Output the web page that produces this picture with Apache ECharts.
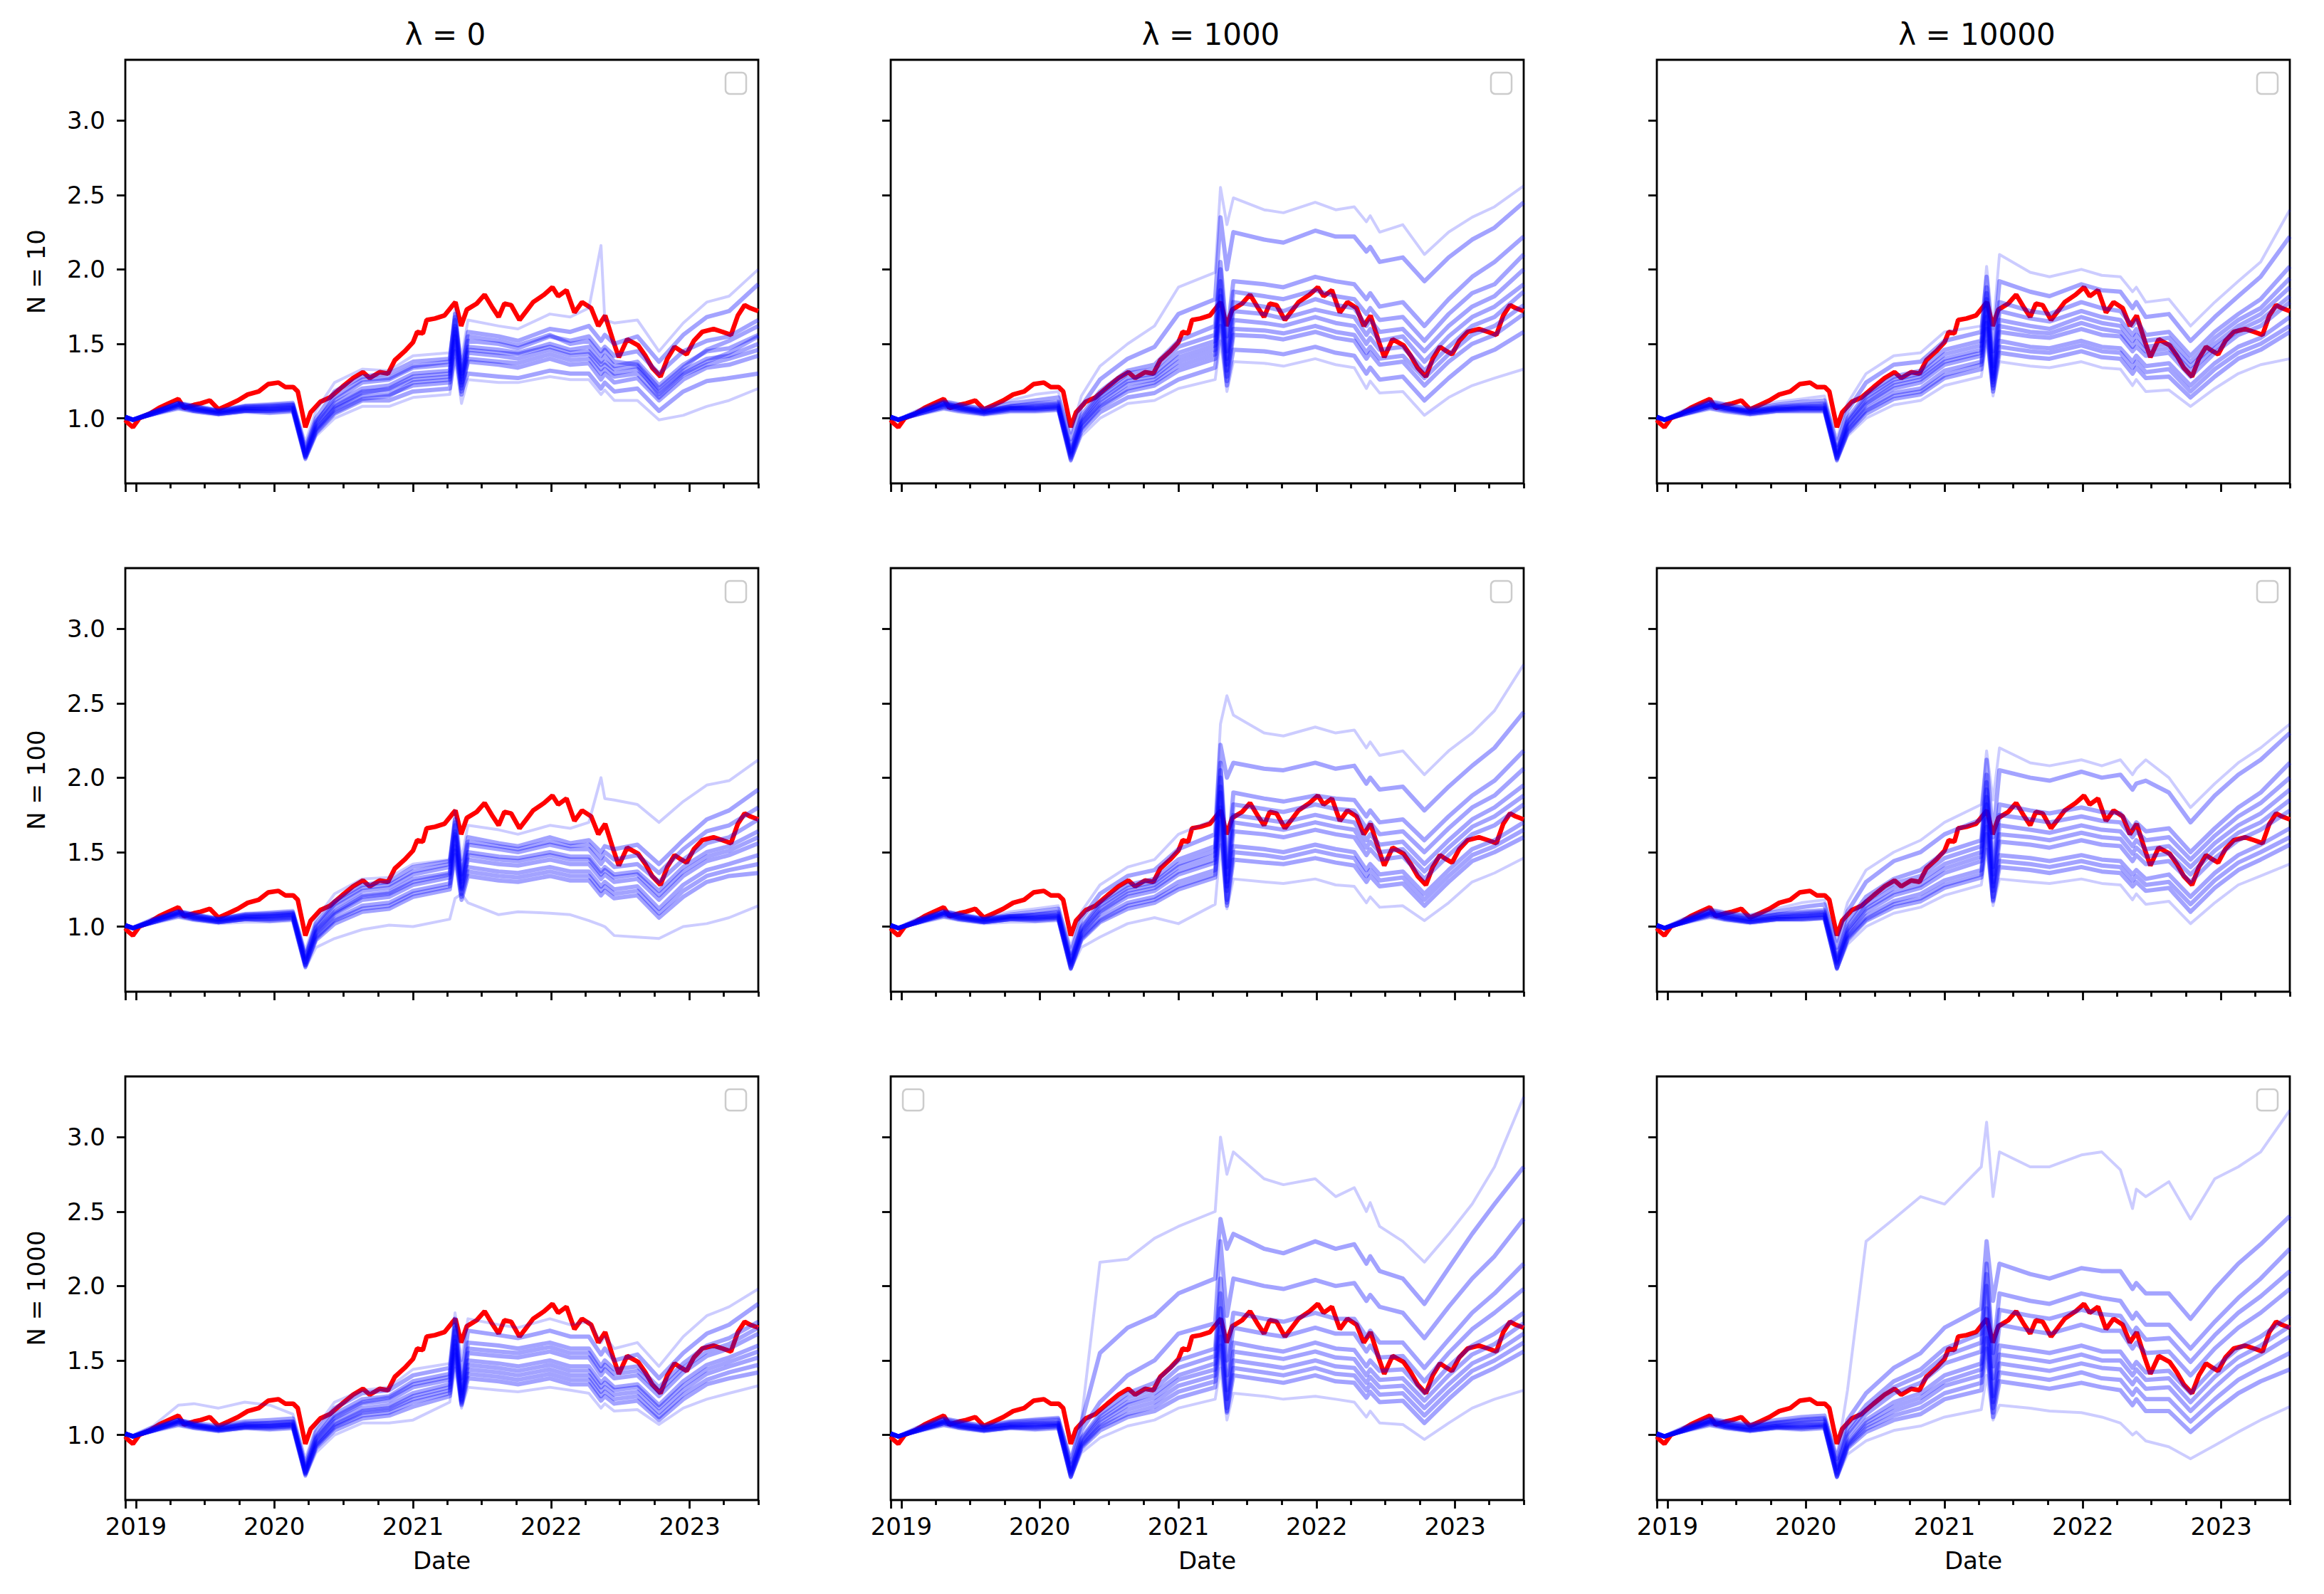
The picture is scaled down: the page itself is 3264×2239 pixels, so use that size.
<!DOCTYPE html>
<html><head><meta charset="utf-8">
<script src="https://cdn.jsdelivr.net/npm/echarts@6/dist/echarts.min.js"></script>
<style>html,body{margin:0;padding:0;background:#fff}#c{width:3264px;height:2239px}</style>
</head><body><div id="c"></div>
<script>
// ---------- data ----------
const lambdaTitles = ['λ = 0', 'λ = 1000', 'λ = 10000'];
const nLabels = ['N = 10', 'N = 100', 'N = 1000'];
const xAxisName = 'Date';
const xMin = '2018-12-04';
const xMax = '2023-07-01';
const yearTicks = ['2019-01-01', '2020-01-01', '2021-01-01', '2022-01-01', '2023-01-01'];
const majorTicks = ['2018-12-04', '2019-01-01', '2020-01-01', '2021-01-01', '2022-01-01', '2023-01-01'];
const quarterTicks = ['2019-04-01','2019-07-01','2019-10-01','2020-04-01','2020-07-01','2020-10-01',
  '2021-04-01','2021-07-01','2021-10-01','2022-04-01','2022-07-01','2022-10-01','2023-04-01','2023-07-01'];
const yTicks = [1.0, 1.5, 2.0, 2.5, 3.0];
const yMin = 0.563, yMax = 3.407;

const redDates = ['2018-12-04','2018-12-10','2018-12-24','2019-01-10','2019-02-06','2019-03-03','2019-03-28',
  '2019-04-23','2019-05-08','2019-06-03','2019-06-21','2019-07-15','2019-08-07','2019-09-02','2019-09-27',
  '2019-10-23','2019-11-21','2019-12-16','2020-01-12','2020-01-30','2020-02-20','2020-03-03','2020-03-23',
  '2020-04-06','2020-05-01','2020-05-27','2020-06-28','2020-07-27','2020-08-22','2020-09-09','2020-10-05',
  '2020-10-27','2020-11-14','2020-12-10','2021-01-01','2021-01-12','2021-01-27','2021-02-06','2021-02-28',
  '2021-03-25','2021-04-13','2021-04-23','2021-05-08','2021-05-23','2021-06-18','2021-07-09','2021-07-28',
  '2021-08-15','2021-08-30','2021-09-17','2021-10-09','2021-10-27','2021-11-14','2021-12-13','2022-01-04',
  '2022-01-19','2022-02-10','2022-03-03','2022-03-23','2022-04-16','2022-05-05','2022-05-23','2022-06-13',
  '2022-06-28','2022-07-20','2022-08-18','2022-09-06','2022-09-24','2022-10-16','2022-11-03','2022-11-22',
  '2022-12-10','2022-12-24','2023-01-12','2023-02-03','2023-03-05','2023-03-29','2023-04-20','2023-05-08',
  '2023-05-26','2023-06-10','2023-07-01'];
const redValues = [0.99,0.97,0.94,1.00,1.03,1.07,1.10,
  1.13,1.07,1.09,1.10,1.12,1.06,1.09,1.12,
  1.16,1.18,1.23,1.24,1.21,1.21,1.18,0.94,
  1.04,1.11,1.14,1.21,1.27,1.31,1.27,1.31,
  1.30,1.39,1.45,1.51,1.58,1.57,1.66,1.67,
  1.69,1.75,1.78,1.62,1.73,1.77,1.83,1.75,
  1.68,1.77,1.76,1.66,1.72,1.78,1.83,1.88,
  1.82,1.86,1.71,1.78,1.74,1.62,1.69,1.52,
  1.41,1.53,1.49,1.42,1.34,1.28,1.40,1.48,
  1.45,1.43,1.52,1.58,1.60,1.58,1.56,1.69,
  1.76,1.74,1.72];

const blueDates = ['2018-12-04','2018-12-24','2019-02-15','2019-04-23','2019-06-03','2019-08-07','2019-10-15',
  '2019-12-20','2020-02-19','2020-03-23','2020-04-20','2020-06-08','2020-08-20','2020-10-30','2021-01-01',
  '2021-04-08','2021-04-22','2021-05-09','2021-05-26','2021-08-15','2021-10-05','2021-12-28','2022-02-20',
  '2022-04-10','2022-05-12','2022-05-22','2022-06-16','2022-08-16','2022-10-12','2022-12-15','2023-02-15',
  '2023-04-15','2023-07-01'];

// N = 10
const blueN10L0 = [
 [1.01,0.99,1.05,1.11,1.09,1.06,1.09,1.10,1.11,0.84,1.05,1.24,1.33,1.32,1.42,1.44,1.73,1.40,1.66,1.62,1.60,1.70,1.68,1.74,2.16,1.66,1.64,1.66,1.45,1.64,1.78,1.82,2.00],
 [1.01,0.99,1.04,1.10,1.08,1.05,1.08,1.09,1.10,0.80,1.00,1.18,1.28,1.30,1.38,1.40,1.68,1.32,1.58,1.55,1.52,1.60,1.58,1.62,1.52,1.56,1.50,1.55,1.38,1.56,1.68,1.72,1.90],
 [1.01,0.99,1.04,1.10,1.07,1.05,1.07,1.08,1.09,0.78,0.98,1.12,1.24,1.26,1.34,1.36,1.66,1.30,1.52,1.50,1.47,1.55,1.52,1.55,1.45,1.48,1.42,1.45,1.30,1.45,1.52,1.55,1.66],
 [1.01,0.99,1.04,1.09,1.07,1.04,1.07,1.07,1.08,0.76,0.96,1.10,1.20,1.22,1.30,1.32,1.62,1.28,1.48,1.46,1.44,1.50,1.46,1.48,1.38,1.42,1.35,1.38,1.22,1.36,1.45,1.47,1.56],
 [1.01,0.99,1.04,1.10,1.08,1.05,1.08,1.08,1.09,0.77,0.97,1.14,1.26,1.27,1.35,1.38,1.70,1.24,1.55,1.52,1.49,1.56,1.50,1.52,1.42,1.46,1.38,1.36,1.20,1.34,1.46,1.52,1.62],
 [1.01,0.99,1.03,1.09,1.06,1.04,1.06,1.06,1.07,0.75,0.93,1.07,1.17,1.20,1.28,1.30,1.60,1.20,1.46,1.44,1.43,1.48,1.44,1.45,1.36,1.38,1.33,1.35,1.16,1.30,1.38,1.44,1.55],
 [1.00,0.99,1.03,1.08,1.05,1.03,1.05,1.05,1.06,0.74,0.91,1.04,1.13,1.15,1.24,1.26,1.55,1.16,1.40,1.38,1.37,1.43,1.39,1.40,1.30,1.33,1.28,1.30,1.14,1.29,1.36,1.40,1.46],
 [1.01,0.99,1.03,1.09,1.06,1.04,1.06,1.06,1.07,0.75,0.94,1.08,1.18,1.19,1.26,1.28,1.58,1.26,1.44,1.42,1.40,1.46,1.42,1.43,1.33,1.36,1.30,1.33,1.18,1.32,1.40,1.42,1.50],
 [1.01,0.99,1.03,1.08,1.06,1.03,1.05,1.05,1.06,0.74,0.92,1.06,1.15,1.16,1.22,1.24,1.52,1.22,1.38,1.36,1.34,1.40,1.36,1.37,1.26,1.30,1.24,1.27,1.12,1.26,1.34,1.36,1.42],
 [1.00,0.99,1.03,1.07,1.05,1.03,1.05,1.04,1.05,0.73,0.90,1.03,1.12,1.12,1.18,1.20,1.45,1.18,1.30,1.28,1.27,1.32,1.30,1.30,1.20,1.24,1.18,1.20,1.05,1.18,1.25,1.27,1.30],
 [1.00,0.99,1.02,1.06,1.04,1.02,1.04,1.03,1.04,0.72,0.88,1.00,1.08,1.08,1.14,1.16,1.40,1.10,1.26,1.24,1.24,1.28,1.26,1.26,1.16,1.19,1.12,1.12,0.99,1.02,1.08,1.12,1.20]
];
const blueN10L1000 = [
 [1.01,0.99,1.05,1.12,1.10,1.07,1.12,1.16,1.18,0.90,1.15,1.35,1.50,1.62,1.88,1.98,2.55,2.30,2.48,2.40,2.38,2.45,2.40,2.42,2.32,2.36,2.25,2.30,2.10,2.25,2.35,2.42,2.56],
 [1.01,0.99,1.05,1.11,1.09,1.06,1.10,1.12,1.14,0.86,1.08,1.26,1.40,1.48,1.70,1.80,2.35,2.00,2.25,2.20,2.18,2.26,2.22,2.22,2.12,2.15,2.05,2.08,1.92,2.08,2.20,2.28,2.45],
 [1.01,0.99,1.04,1.10,1.08,1.05,1.08,1.10,1.11,0.80,1.02,1.18,1.32,1.36,1.52,1.62,2.05,1.55,1.92,1.90,1.88,1.95,1.92,1.90,1.80,1.84,1.75,1.78,1.62,1.80,1.95,2.05,2.22],
 [1.01,0.99,1.04,1.10,1.07,1.05,1.07,1.08,1.09,0.77,0.98,1.14,1.27,1.30,1.44,1.52,1.92,1.40,1.78,1.75,1.72,1.80,1.76,1.74,1.62,1.66,1.58,1.60,1.45,1.62,1.75,1.82,2.00],
 [1.01,0.99,1.04,1.10,1.08,1.05,1.08,1.09,1.10,0.78,1.00,1.16,1.30,1.33,1.48,1.56,2.00,1.45,1.85,1.82,1.80,1.86,1.82,1.80,1.70,1.74,1.66,1.68,1.52,1.70,1.84,1.90,2.10],
 [1.01,0.99,1.04,1.09,1.07,1.04,1.07,1.07,1.08,0.76,0.97,1.12,1.25,1.28,1.41,1.49,1.86,1.36,1.72,1.70,1.67,1.73,1.70,1.68,1.56,1.60,1.52,1.55,1.38,1.55,1.68,1.75,1.90],
 [1.01,0.99,1.03,1.08,1.06,1.03,1.06,1.06,1.07,0.74,0.94,1.08,1.20,1.24,1.35,1.43,1.77,1.28,1.60,1.59,1.57,1.62,1.58,1.56,1.44,1.48,1.40,1.42,1.27,1.43,1.56,1.62,1.76],
 [1.01,0.99,1.04,1.09,1.07,1.04,1.07,1.07,1.08,0.75,0.96,1.10,1.23,1.26,1.38,1.46,1.82,1.32,1.66,1.64,1.62,1.68,1.64,1.62,1.50,1.54,1.46,1.48,1.32,1.48,1.62,1.68,1.85],
 [1.01,0.99,1.03,1.08,1.06,1.04,1.06,1.06,1.07,0.73,0.93,1.07,1.18,1.22,1.32,1.40,1.72,1.25,1.56,1.55,1.53,1.58,1.54,1.52,1.40,1.44,1.36,1.38,1.22,1.38,1.50,1.56,1.70],
 [1.00,0.99,1.03,1.07,1.05,1.03,1.05,1.05,1.06,0.72,0.91,1.04,1.14,1.17,1.26,1.34,1.62,1.22,1.46,1.45,1.43,1.48,1.44,1.42,1.30,1.34,1.26,1.28,1.12,1.27,1.40,1.46,1.58],
 [1.00,0.99,1.02,1.06,1.04,1.02,1.04,1.04,1.05,0.71,0.88,1.00,1.10,1.12,1.20,1.26,1.52,1.18,1.38,1.37,1.35,1.40,1.36,1.34,1.20,1.25,1.17,1.18,1.02,1.14,1.22,1.27,1.33]
];
const blueN10L10000 = [
 [1.01,0.99,1.05,1.12,1.10,1.07,1.11,1.13,1.15,0.86,1.10,1.30,1.42,1.44,1.58,1.62,2.02,1.60,2.10,1.98,1.95,2.00,1.96,1.95,1.85,1.88,1.78,1.80,1.62,1.78,1.92,2.05,2.40],
 [1.01,0.99,1.05,1.11,1.09,1.06,1.09,1.11,1.12,0.82,1.05,1.24,1.36,1.38,1.52,1.58,1.95,1.45,1.92,1.85,1.82,1.90,1.86,1.85,1.74,1.78,1.68,1.70,1.52,1.68,1.82,1.95,2.22],
 [1.01,0.99,1.04,1.10,1.08,1.05,1.08,1.09,1.10,0.78,1.00,1.16,1.28,1.32,1.46,1.52,1.88,1.35,1.78,1.72,1.70,1.78,1.74,1.72,1.62,1.66,1.56,1.58,1.42,1.58,1.70,1.80,2.02],
 [1.01,0.99,1.04,1.09,1.07,1.05,1.07,1.08,1.08,0.76,0.97,1.12,1.24,1.28,1.40,1.46,1.80,1.28,1.66,1.62,1.60,1.68,1.64,1.62,1.52,1.56,1.48,1.50,1.35,1.50,1.62,1.70,1.88],
 [1.01,0.99,1.04,1.10,1.07,1.05,1.07,1.08,1.09,0.77,0.98,1.14,1.26,1.30,1.43,1.49,1.84,1.30,1.72,1.67,1.65,1.72,1.68,1.66,1.56,1.60,1.52,1.54,1.38,1.54,1.66,1.74,1.94],
 [1.01,0.99,1.04,1.09,1.07,1.04,1.06,1.07,1.07,0.75,0.95,1.10,1.22,1.26,1.38,1.44,1.77,1.26,1.62,1.58,1.57,1.64,1.60,1.58,1.48,1.52,1.45,1.47,1.32,1.47,1.59,1.66,1.82],
 [1.01,0.99,1.03,1.08,1.06,1.03,1.05,1.06,1.06,0.73,0.91,1.05,1.15,1.18,1.29,1.36,1.64,1.20,1.48,1.45,1.44,1.49,1.45,1.44,1.34,1.38,1.31,1.33,1.18,1.33,1.44,1.50,1.62],
 [1.01,0.99,1.04,1.09,1.07,1.04,1.06,1.07,1.07,0.74,0.94,1.09,1.20,1.24,1.36,1.42,1.74,1.24,1.58,1.55,1.54,1.60,1.56,1.55,1.45,1.48,1.42,1.44,1.28,1.44,1.56,1.62,1.78],
 [1.01,0.99,1.03,1.08,1.06,1.04,1.06,1.06,1.06,0.73,0.92,1.06,1.17,1.20,1.32,1.38,1.68,1.22,1.52,1.48,1.47,1.52,1.48,1.47,1.38,1.42,1.35,1.37,1.22,1.37,1.48,1.54,1.68],
 [1.00,0.99,1.03,1.07,1.05,1.03,1.05,1.05,1.05,0.72,0.90,1.03,1.13,1.16,1.27,1.33,1.60,1.18,1.44,1.41,1.40,1.45,1.41,1.40,1.30,1.34,1.27,1.28,1.14,1.28,1.40,1.46,1.58],
 [1.00,0.99,1.02,1.06,1.04,1.02,1.04,1.04,1.04,0.71,0.88,1.00,1.09,1.12,1.22,1.28,1.52,1.15,1.38,1.35,1.34,1.38,1.34,1.33,1.22,1.26,1.18,1.19,1.08,1.20,1.30,1.36,1.40]
];
// N = 100
const blueN100L0 = [
 [1.01,1.00,1.05,1.11,1.09,1.06,1.09,1.10,1.11,0.84,1.05,1.22,1.32,1.33,1.42,1.45,1.78,1.45,1.68,1.65,1.62,1.68,1.66,1.70,2.00,1.86,1.85,1.82,1.70,1.84,1.95,1.98,2.12],
 [1.01,0.99,1.05,1.10,1.08,1.05,1.08,1.09,1.10,0.80,1.02,1.17,1.28,1.30,1.40,1.44,1.72,1.35,1.60,1.56,1.54,1.60,1.56,1.58,1.50,1.54,1.52,1.55,1.42,1.58,1.72,1.78,1.92],
 [1.01,0.99,1.04,1.10,1.07,1.05,1.07,1.08,1.09,0.78,0.99,1.13,1.24,1.26,1.35,1.40,1.68,1.30,1.55,1.52,1.50,1.55,1.52,1.52,1.42,1.46,1.40,1.42,1.30,1.45,1.56,1.60,1.72],
 [1.01,0.99,1.04,1.09,1.07,1.04,1.07,1.07,1.08,0.76,0.97,1.10,1.21,1.23,1.32,1.36,1.64,1.27,1.50,1.47,1.46,1.50,1.47,1.47,1.37,1.40,1.35,1.37,1.24,1.40,1.50,1.54,1.64],
 [1.01,0.99,1.04,1.10,1.08,1.05,1.08,1.08,1.09,0.79,1.00,1.15,1.26,1.28,1.37,1.42,1.70,1.32,1.57,1.54,1.52,1.57,1.54,1.55,1.46,1.50,1.45,1.48,1.36,1.52,1.64,1.68,1.80],
 [1.01,0.99,1.04,1.09,1.06,1.04,1.06,1.07,1.08,0.76,0.96,1.09,1.20,1.22,1.30,1.35,1.62,1.26,1.48,1.45,1.44,1.48,1.45,1.45,1.35,1.38,1.33,1.35,1.21,1.37,1.47,1.51,1.60],
 [1.01,0.99,1.03,1.08,1.05,1.03,1.05,1.05,1.06,0.74,0.92,1.04,1.12,1.14,1.22,1.27,1.51,1.20,1.37,1.34,1.33,1.37,1.34,1.34,1.24,1.27,1.22,1.24,1.09,1.24,1.34,1.38,1.42],
 [1.01,0.99,1.03,1.09,1.06,1.04,1.06,1.06,1.07,0.75,0.95,1.08,1.18,1.20,1.28,1.33,1.60,1.25,1.45,1.42,1.41,1.45,1.42,1.42,1.32,1.35,1.30,1.32,1.18,1.34,1.44,1.48,1.56],
 [1.01,0.99,1.03,1.08,1.06,1.03,1.05,1.05,1.06,0.74,0.93,1.05,1.14,1.16,1.24,1.29,1.54,1.22,1.40,1.37,1.36,1.40,1.37,1.37,1.27,1.30,1.25,1.27,1.12,1.28,1.38,1.42,1.48],
 [1.00,0.99,1.03,1.07,1.05,1.03,1.05,1.04,1.05,0.73,0.91,1.02,1.10,1.12,1.20,1.25,1.48,1.18,1.34,1.31,1.30,1.34,1.31,1.31,1.21,1.24,1.19,1.21,1.06,1.20,1.30,1.34,1.36],
 [1.00,0.99,1.02,1.06,1.04,1.02,1.03,1.03,1.04,0.72,0.86,0.92,0.98,1.01,1.00,1.05,1.19,1.22,1.16,1.08,1.10,1.09,1.08,1.04,1.01,1.00,0.94,0.93,0.92,1.00,1.02,1.06,1.14]
];
const blueN100L1000 = [
 [1.01,0.99,1.05,1.11,1.09,1.06,1.10,1.12,1.14,0.86,1.10,1.28,1.40,1.45,1.62,1.72,2.36,2.55,2.42,2.30,2.28,2.34,2.30,2.32,2.20,2.24,2.15,2.18,2.02,2.18,2.30,2.45,2.76],
 [1.01,0.99,1.05,1.10,1.08,1.05,1.08,1.10,1.12,0.82,1.05,1.22,1.34,1.38,1.52,1.62,2.22,2.00,2.10,2.06,2.05,2.10,2.06,2.08,1.96,2.00,1.92,1.94,1.78,1.94,2.08,2.20,2.44],
 [1.01,0.99,1.04,1.10,1.08,1.05,1.07,1.08,1.10,0.78,1.00,1.16,1.28,1.32,1.45,1.54,2.10,1.40,1.90,1.86,1.84,1.88,1.86,1.85,1.74,1.78,1.70,1.72,1.58,1.74,1.88,1.98,2.18],
 [1.01,0.99,1.04,1.09,1.07,1.04,1.07,1.07,1.08,0.76,0.97,1.12,1.24,1.28,1.40,1.48,2.00,1.30,1.75,1.72,1.70,1.75,1.72,1.70,1.58,1.62,1.55,1.57,1.42,1.58,1.72,1.80,1.95],
 [1.01,0.99,1.04,1.09,1.07,1.05,1.07,1.08,1.09,0.77,0.99,1.14,1.26,1.30,1.42,1.51,2.05,1.35,1.82,1.79,1.77,1.82,1.79,1.78,1.66,1.70,1.62,1.64,1.50,1.66,1.80,1.88,2.06],
 [1.01,0.99,1.03,1.09,1.06,1.04,1.06,1.06,1.07,0.75,0.96,1.10,1.22,1.26,1.37,1.45,1.94,1.27,1.70,1.67,1.65,1.70,1.67,1.65,1.53,1.57,1.50,1.52,1.37,1.53,1.67,1.74,1.88],
 [1.01,0.99,1.03,1.08,1.05,1.03,1.05,1.05,1.06,0.72,0.92,1.04,1.14,1.18,1.27,1.35,1.75,1.16,1.50,1.48,1.46,1.51,1.48,1.46,1.34,1.38,1.31,1.33,1.18,1.34,1.48,1.54,1.65],
 [1.01,0.99,1.03,1.09,1.06,1.04,1.06,1.06,1.07,0.74,0.95,1.09,1.20,1.24,1.35,1.43,1.90,1.24,1.64,1.62,1.60,1.65,1.62,1.60,1.48,1.52,1.45,1.47,1.32,1.48,1.62,1.68,1.82],
 [1.01,0.99,1.03,1.08,1.06,1.03,1.05,1.05,1.06,0.73,0.93,1.06,1.16,1.20,1.30,1.38,1.80,1.18,1.54,1.52,1.50,1.55,1.52,1.50,1.38,1.42,1.35,1.37,1.22,1.38,1.52,1.58,1.70],
 [1.00,0.99,1.03,1.07,1.05,1.03,1.05,1.04,1.05,0.72,0.91,1.03,1.12,1.16,1.25,1.33,1.70,1.14,1.45,1.43,1.42,1.46,1.43,1.41,1.30,1.34,1.27,1.29,1.14,1.30,1.44,1.50,1.60],
 [1.00,0.99,1.02,1.06,1.04,1.02,1.03,1.03,1.04,0.71,0.86,0.93,1.02,1.06,1.02,1.15,1.55,1.12,1.32,1.30,1.29,1.32,1.28,1.27,1.16,1.20,1.13,1.14,1.04,1.16,1.30,1.36,1.46]
];
const blueN100L10000 = [
 [1.01,0.99,1.05,1.12,1.10,1.08,1.12,1.16,1.18,0.90,1.16,1.38,1.50,1.58,1.70,1.82,2.18,1.85,2.20,2.10,2.08,2.12,2.08,2.12,2.02,2.06,2.12,2.00,1.80,1.96,2.10,2.20,2.36],
 [1.01,0.99,1.05,1.11,1.09,1.07,1.10,1.13,1.15,0.86,1.10,1.30,1.44,1.50,1.62,1.72,2.12,1.60,2.05,2.00,1.98,2.04,2.00,2.02,1.92,1.96,1.98,1.90,1.70,1.88,2.02,2.12,2.30],
 [1.01,0.99,1.04,1.10,1.08,1.06,1.08,1.10,1.11,0.80,1.03,1.20,1.32,1.38,1.50,1.58,2.02,1.40,1.82,1.78,1.76,1.80,1.77,1.76,1.66,1.70,1.64,1.66,1.50,1.66,1.80,1.90,2.10],
 [1.01,0.99,1.04,1.09,1.07,1.05,1.07,1.08,1.09,0.77,0.98,1.14,1.26,1.31,1.42,1.50,1.92,1.30,1.68,1.65,1.63,1.68,1.65,1.64,1.54,1.58,1.52,1.54,1.40,1.56,1.68,1.76,1.92],
 [1.01,0.99,1.04,1.10,1.08,1.05,1.08,1.09,1.10,0.78,1.00,1.17,1.29,1.34,1.46,1.54,1.97,1.35,1.75,1.72,1.70,1.74,1.71,1.70,1.60,1.64,1.58,1.60,1.45,1.61,1.74,1.83,2.00],
 [1.01,0.99,1.03,1.09,1.06,1.04,1.06,1.07,1.08,0.76,0.96,1.12,1.23,1.28,1.39,1.47,1.87,1.27,1.62,1.60,1.58,1.63,1.60,1.59,1.49,1.53,1.47,1.49,1.35,1.51,1.63,1.70,1.85],
 [1.01,0.99,1.03,1.08,1.05,1.03,1.05,1.05,1.06,0.72,0.92,1.05,1.15,1.19,1.28,1.35,1.67,1.18,1.44,1.42,1.40,1.44,1.41,1.40,1.31,1.34,1.28,1.30,1.15,1.31,1.43,1.50,1.60],
 [1.01,0.99,1.03,1.09,1.06,1.04,1.06,1.07,1.08,0.75,0.95,1.10,1.21,1.26,1.36,1.44,1.82,1.24,1.57,1.55,1.53,1.58,1.55,1.54,1.44,1.48,1.42,1.44,1.30,1.46,1.58,1.65,1.78],
 [1.01,0.99,1.03,1.08,1.06,1.03,1.05,1.06,1.07,0.73,0.93,1.07,1.17,1.22,1.31,1.38,1.72,1.20,1.48,1.46,1.44,1.48,1.45,1.44,1.35,1.38,1.32,1.35,1.20,1.36,1.48,1.55,1.66],
 [1.00,0.99,1.03,1.07,1.05,1.03,1.05,1.05,1.06,0.72,0.91,1.04,1.13,1.17,1.26,1.33,1.62,1.17,1.40,1.38,1.36,1.40,1.37,1.36,1.27,1.30,1.24,1.26,1.10,1.26,1.38,1.45,1.55],
 [1.00,0.99,1.02,1.06,1.04,1.02,1.04,1.04,1.05,0.71,0.88,1.00,1.09,1.13,1.21,1.28,1.52,1.14,1.32,1.30,1.29,1.32,1.29,1.28,1.18,1.22,1.15,1.17,1.02,1.16,1.28,1.34,1.42]
];
// N = 1000
const blueN1000L0 = [
 [1.01,1.00,1.06,1.20,1.21,1.18,1.22,1.20,1.14,0.84,1.05,1.22,1.30,1.32,1.44,1.48,1.82,1.50,1.78,1.74,1.72,1.78,1.74,1.76,1.62,1.66,1.58,1.62,1.46,1.66,1.80,1.86,1.98],
 [1.01,0.99,1.05,1.10,1.08,1.06,1.09,1.10,1.11,0.80,1.02,1.18,1.28,1.30,1.40,1.45,1.78,1.38,1.70,1.67,1.65,1.70,1.66,1.66,1.54,1.58,1.50,1.54,1.38,1.55,1.68,1.74,1.88],
 [1.01,0.99,1.04,1.10,1.07,1.05,1.07,1.08,1.09,0.78,0.99,1.14,1.24,1.26,1.36,1.41,1.74,1.30,1.62,1.60,1.58,1.62,1.58,1.58,1.46,1.50,1.44,1.46,1.32,1.48,1.60,1.65,1.76],
 [1.01,0.99,1.04,1.09,1.07,1.04,1.07,1.07,1.08,0.76,0.97,1.11,1.21,1.23,1.32,1.37,1.70,1.26,1.55,1.53,1.52,1.56,1.52,1.52,1.40,1.44,1.38,1.40,1.26,1.42,1.53,1.58,1.68],
 [1.01,0.99,1.04,1.10,1.07,1.05,1.08,1.08,1.09,0.77,0.98,1.12,1.22,1.25,1.34,1.39,1.72,1.28,1.58,1.56,1.55,1.59,1.55,1.55,1.43,1.47,1.41,1.43,1.29,1.45,1.56,1.61,1.72],
 [1.01,0.99,1.03,1.09,1.06,1.04,1.06,1.06,1.07,0.75,0.94,1.07,1.16,1.18,1.26,1.32,1.63,1.23,1.47,1.45,1.43,1.47,1.43,1.43,1.32,1.35,1.30,1.32,1.18,1.33,1.44,1.49,1.56],
 [1.01,0.99,1.03,1.08,1.05,1.03,1.05,1.05,1.06,0.74,0.92,1.05,1.13,1.15,1.22,1.28,1.57,1.21,1.41,1.39,1.37,1.41,1.37,1.37,1.26,1.29,1.24,1.26,1.12,1.27,1.37,1.42,1.47],
 [1.01,0.99,1.03,1.09,1.06,1.04,1.06,1.06,1.07,0.75,0.95,1.09,1.18,1.20,1.28,1.34,1.66,1.24,1.50,1.48,1.46,1.50,1.46,1.46,1.35,1.38,1.32,1.34,1.20,1.36,1.47,1.52,1.60],
 [1.01,0.99,1.03,1.08,1.06,1.03,1.05,1.05,1.06,0.74,0.93,1.06,1.15,1.17,1.24,1.30,1.60,1.22,1.44,1.42,1.40,1.44,1.40,1.40,1.29,1.32,1.27,1.29,1.15,1.30,1.41,1.46,1.52],
 [1.00,0.99,1.03,1.07,1.05,1.03,1.05,1.04,1.05,0.73,0.91,1.03,1.11,1.13,1.19,1.26,1.54,1.20,1.38,1.36,1.34,1.38,1.34,1.34,1.23,1.26,1.21,1.23,1.10,1.24,1.34,1.38,1.42],
 [1.00,0.99,1.02,1.06,1.04,1.02,1.04,1.03,1.04,0.72,0.88,1.00,1.08,1.08,1.10,1.22,1.45,1.18,1.32,1.30,1.29,1.32,1.30,1.28,1.18,1.21,1.16,1.17,1.07,1.18,1.24,1.28,1.33]
];
const blueN1000L1000 = [
 [1.01,0.99,1.05,1.11,1.09,1.06,1.09,1.11,1.12,0.85,1.10,2.16,2.18,2.32,2.40,2.50,3.00,2.75,2.90,2.72,2.68,2.72,2.60,2.66,2.50,2.56,2.40,2.30,2.16,2.35,2.55,2.80,3.27],
 [1.01,0.99,1.05,1.11,1.09,1.06,1.09,1.10,1.11,0.82,1.08,1.55,1.72,1.80,1.95,2.05,2.45,2.25,2.35,2.25,2.22,2.30,2.25,2.28,2.15,2.20,2.10,2.05,1.88,2.12,2.35,2.55,2.80],
 [1.01,0.99,1.04,1.10,1.08,1.05,1.08,1.09,1.10,0.79,1.03,1.22,1.40,1.50,1.68,1.75,2.30,1.80,2.05,2.00,1.98,2.04,2.00,2.02,1.90,1.94,1.86,1.82,1.65,1.86,2.05,2.20,2.45],
 [1.01,0.99,1.04,1.09,1.07,1.05,1.07,1.08,1.08,0.77,0.98,1.14,1.28,1.35,1.50,1.58,2.05,1.50,1.82,1.78,1.76,1.82,1.78,1.78,1.66,1.70,1.62,1.62,1.45,1.64,1.82,1.95,2.15],
 [1.01,0.99,1.04,1.09,1.07,1.05,1.07,1.07,1.08,0.76,0.97,1.12,1.25,1.31,1.45,1.53,1.95,1.40,1.72,1.68,1.66,1.72,1.68,1.68,1.56,1.60,1.52,1.53,1.36,1.55,1.71,1.82,1.98],
 [1.01,0.99,1.03,1.08,1.06,1.04,1.06,1.06,1.07,0.74,0.94,1.08,1.20,1.25,1.37,1.44,1.78,1.24,1.56,1.53,1.51,1.56,1.52,1.51,1.40,1.44,1.37,1.38,1.23,1.40,1.54,1.61,1.75],
 [1.01,0.99,1.03,1.08,1.05,1.03,1.05,1.05,1.06,0.72,0.92,1.05,1.14,1.19,1.29,1.36,1.66,1.16,1.45,1.42,1.40,1.45,1.41,1.40,1.30,1.34,1.27,1.28,1.13,1.29,1.43,1.50,1.62],
 [1.01,0.99,1.03,1.09,1.06,1.04,1.06,1.07,1.07,0.75,0.95,1.10,1.22,1.28,1.40,1.48,1.85,1.30,1.62,1.58,1.56,1.62,1.58,1.57,1.46,1.50,1.43,1.44,1.28,1.46,1.60,1.68,1.82],
 [1.01,0.99,1.03,1.08,1.06,1.03,1.05,1.05,1.06,0.73,0.93,1.06,1.17,1.22,1.33,1.40,1.72,1.18,1.50,1.47,1.45,1.50,1.46,1.45,1.35,1.39,1.32,1.33,1.18,1.34,1.48,1.55,1.68],
 [1.00,0.99,1.03,1.07,1.05,1.03,1.05,1.04,1.05,0.72,0.91,1.03,1.12,1.16,1.25,1.32,1.60,1.15,1.40,1.37,1.35,1.40,1.36,1.35,1.25,1.29,1.22,1.23,1.08,1.24,1.38,1.45,1.56],
 [1.00,0.99,1.02,1.06,1.04,1.02,1.04,1.03,1.04,0.71,0.88,0.98,1.06,1.10,1.18,1.24,1.45,1.10,1.28,1.26,1.24,1.26,1.24,1.22,1.12,1.16,1.08,1.07,0.97,1.08,1.18,1.24,1.30]
];
const blueN1000L10000 = [
 [1.01,0.99,1.05,1.11,1.09,1.06,1.09,1.11,1.12,0.85,1.30,2.30,2.45,2.60,2.55,2.80,3.10,2.60,2.90,2.80,2.80,2.88,2.90,2.78,2.52,2.65,2.60,2.70,2.45,2.72,2.80,2.90,3.18],
 [1.01,0.99,1.05,1.11,1.09,1.07,1.10,1.12,1.13,0.84,1.10,1.28,1.45,1.55,1.72,1.85,2.30,1.90,2.15,2.08,2.05,2.12,2.10,2.10,1.98,2.02,1.95,1.95,1.78,1.98,2.15,2.28,2.47],
 [1.01,0.99,1.04,1.10,1.08,1.06,1.08,1.10,1.11,0.80,1.04,1.20,1.36,1.44,1.58,1.68,2.15,1.55,1.95,1.90,1.88,1.95,1.92,1.90,1.78,1.82,1.74,1.74,1.58,1.76,1.92,2.05,2.25],
 [1.01,0.99,1.04,1.09,1.07,1.05,1.07,1.08,1.09,0.77,0.99,1.14,1.28,1.35,1.48,1.56,2.00,1.38,1.74,1.70,1.68,1.74,1.70,1.70,1.58,1.62,1.55,1.56,1.40,1.58,1.72,1.82,1.98],
 [1.01,0.99,1.04,1.10,1.07,1.05,1.08,1.09,1.10,0.78,1.01,1.17,1.32,1.40,1.53,1.62,2.08,1.46,1.84,1.80,1.78,1.84,1.81,1.80,1.68,1.72,1.64,1.65,1.49,1.67,1.82,1.93,2.10],
 [1.01,0.99,1.03,1.09,1.06,1.04,1.06,1.06,1.07,0.74,0.94,1.08,1.19,1.25,1.36,1.44,1.78,1.22,1.54,1.51,1.49,1.54,1.50,1.50,1.40,1.44,1.37,1.38,1.22,1.39,1.52,1.60,1.73],
 [1.00,0.99,1.03,1.08,1.05,1.03,1.05,1.05,1.06,0.72,0.92,1.04,1.13,1.18,1.28,1.35,1.65,1.15,1.42,1.39,1.37,1.42,1.38,1.37,1.27,1.31,1.24,1.24,1.09,1.24,1.37,1.45,1.55],
 [1.01,0.99,1.03,1.09,1.06,1.04,1.06,1.07,1.07,0.75,0.95,1.10,1.22,1.28,1.40,1.48,1.85,1.26,1.60,1.57,1.55,1.60,1.56,1.56,1.45,1.49,1.42,1.43,1.28,1.45,1.58,1.66,1.80],
 [1.01,0.99,1.03,1.08,1.06,1.03,1.05,1.05,1.06,0.73,0.93,1.06,1.16,1.22,1.33,1.40,1.72,1.18,1.48,1.45,1.43,1.48,1.45,1.44,1.34,1.38,1.31,1.32,1.16,1.32,1.46,1.54,1.66],
 [1.00,0.99,1.03,1.07,1.05,1.03,1.05,1.04,1.05,0.72,0.91,1.02,1.10,1.14,1.24,1.30,1.58,1.12,1.36,1.33,1.31,1.35,1.32,1.30,1.20,1.24,1.16,1.16,1.02,1.16,1.28,1.36,1.44],
 [1.00,0.99,1.02,1.06,1.04,1.02,1.04,1.03,1.04,0.71,0.87,0.96,1.03,1.06,1.12,1.17,1.40,1.10,1.20,1.18,1.16,1.15,1.12,1.08,1.00,1.02,0.96,0.92,0.84,0.93,1.02,1.10,1.19]
];

// ---------- layout / styling ----------
const FONT = 'DejaVu Sans';
const colLeft = [176, 1251, 2327];
const rowTop = [84, 798, 1512];
const W = 889, H = 595;
const panels = [
  [blueN10L0, blueN10L1000, blueN10L10000],
  [blueN100L0, blueN100L1000, blueN100L10000],
  [blueN1000L0, blueN1000L1000, blueN1000L10000]
];
const ts = s => Date.parse(s + 'T00:00:00Z');
const axisLineStyle = { color: '#000', width: 2.8 };
const textBase = { color: '#000', fontFamily: FONT };

const grids = [], xAxes = [], yAxes = [], series = [], graphics = [], titles = [];

for (let c = 0; c < 3; c++) {
  titles.push({
    text: lambdaTitles[c], left: colLeft[c] + W / 2, top: 22, textAlign: 'center',
    textStyle: { ...textBase, fontSize: 42, fontWeight: 'normal' }
  });
}

for (let r = 0; r < 3; r++) {
  for (let c = 0; c < 3; c++) {
    const gi = r * 3 + c;
    grids.push({
      left: colLeft[c], top: rowTop[r], width: W, height: H,
      show: true, borderColor: '#000', borderWidth: 2.8, backgroundColor: 'rgba(0,0,0,0)',
      containLabel: false, outerBoundsMode: 'none'
    });
    xAxes.push({
      type: 'value', gridIndex: gi, position: 'bottom', min: ts(xMin), max: ts(xMax),
      axisLine: { show: false }, splitLine: { show: false },
      axisTick: { show: true, customValues: majorTicks.map(ts), length: 12, lineStyle: axisLineStyle },
      axisLabel: {
        show: r === 2, customValues: yearTicks.map(ts), margin: 20, fontSize: 34, ...textBase,
        formatter: v => String(new Date(v).getUTCFullYear())
      },
      name: r === 2 ? xAxisName : '', nameLocation: 'middle', nameGap: 68,
      nameTextStyle: { ...textBase, fontSize: 34 }
    });
    xAxes.push({
      type: 'value', gridIndex: gi, position: 'bottom', offset: 0, min: ts(xMin), max: ts(xMax),
      axisLine: { show: false }, splitLine: { show: false }, axisLabel: { show: false },
      axisTick: { show: true, customValues: quarterTicks.map(ts), length: 7, lineStyle: axisLineStyle }
    });
    yAxes.push({
      type: 'value', gridIndex: gi, position: 'left', min: yMin, max: yMax,
      axisLine: { show: false }, splitLine: { show: false },
      axisTick: { show: true, customValues: yTicks, length: 12, lineStyle: axisLineStyle },
      axisLabel: {
        show: c === 0, customValues: yTicks, margin: 28, fontSize: 34, ...textBase,
        formatter: v => Number(v).toFixed(1)
      },
      name: c === 0 ? nLabels[r] : '', nameLocation: 'middle', nameRotate: 90, nameGap: 108,
      nameTextStyle: { ...textBase, fontSize: 34 }
    });
    series.push({
      type: 'line', xAxisIndex: gi * 2, yAxisIndex: gi, z: 2, silent: true,
      showSymbol: false, symbol: 'none',
      data: redDates.map((d, i) => [ts(d), redValues[i]]),
      lineStyle: { color: '#ff0000', width: 6.5 }
    });
    const lines = panels[r][c];
    lines.forEach((vals, k) => {
      const edge = (k === 0 || k === lines.length - 1);
      series.push({
        type: 'line', xAxisIndex: gi * 2, yAxisIndex: gi, z: 3, silent: true,
        showSymbol: false, symbol: 'none',
        data: blueDates.map((d, i) => [ts(d), vals[i]]),
        lineStyle: { color: '#0000ff', width: edge ? 4 : 6, opacity: edge ? 0.2 : 0.36, join: 'round' }
      });
    });
    const legendLeft = (r === 2 && c === 1);
    graphics.push({
      type: 'rect', z: 100,
      shape: { x: legendLeft ? colLeft[c] + 17 : colLeft[c] + W - 17 - 29, y: rowTop[r] + 18, width: 29, height: 30, r: 6 },
      style: { fill: 'rgba(255,255,255,0.8)', stroke: '#cccccc', lineWidth: 2.5 }
    });
  }
}

const chart = echarts.init(document.getElementById('c'), null, { renderer: 'svg', width: 3264, height: 2239 });
chart.setOption({
  animation: false,
  backgroundColor: '#fff',
  title: titles,
  grid: grids,
  xAxis: xAxes,
  yAxis: yAxes,
  series: series,
  graphic: graphics
});
</script>
</body></html>
